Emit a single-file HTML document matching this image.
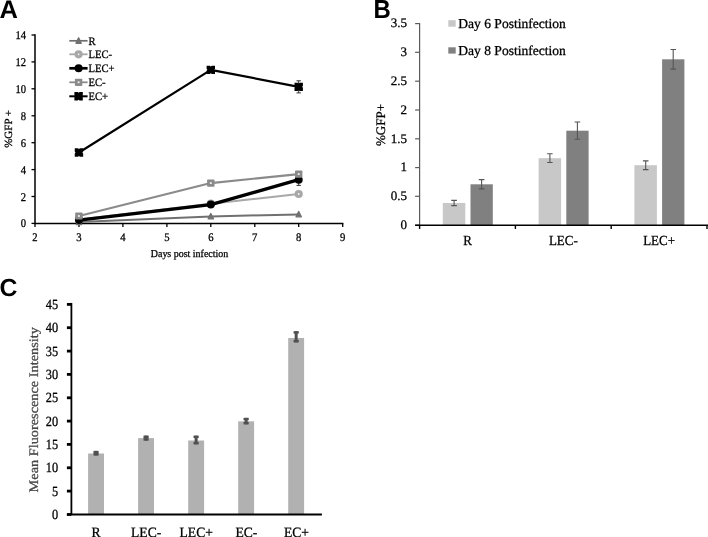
<!DOCTYPE html>
<html><head><meta charset="utf-8"><style>
html,body{margin:0;padding:0;background:#fff;width:708px;height:537px;overflow:hidden;}
svg{display:block;text-rendering:geometricPrecision;filter:blur(0.35px);}
</style></head><body>
<svg width="708" height="537" viewBox="0 0 708 537">
<rect width="708" height="537" fill="#fff"/>
<text transform="translate(-0.60,17.70)" text-anchor="start" font-family='"Liberation Sans", sans-serif' font-size="25.50" fill="#000" font-weight="bold">A</text>
<line x1="35.0" y1="34.3" x2="35.0" y2="223.4" stroke="#000" stroke-width="1.5"/>
<line x1="31.5" y1="223.4" x2="35.0" y2="223.4" stroke="#000" stroke-width="1.3"/>
<text transform="translate(26.10,227.45) scale(0.900,1)" text-anchor="end" font-family='"Liberation Serif", serif' font-size="11.80" fill="#000" stroke="#000" stroke-width="0.28">0</text>
<line x1="31.5" y1="196.5" x2="35.0" y2="196.5" stroke="#000" stroke-width="1.3"/>
<text transform="translate(26.10,200.53) scale(0.900,1)" text-anchor="end" font-family='"Liberation Serif", serif' font-size="11.80" fill="#000" stroke="#000" stroke-width="0.28">2</text>
<line x1="31.5" y1="169.6" x2="35.0" y2="169.6" stroke="#000" stroke-width="1.3"/>
<text transform="translate(26.10,173.61) scale(0.900,1)" text-anchor="end" font-family='"Liberation Serif", serif' font-size="11.80" fill="#000" stroke="#000" stroke-width="0.28">4</text>
<line x1="31.5" y1="142.7" x2="35.0" y2="142.7" stroke="#000" stroke-width="1.3"/>
<text transform="translate(26.10,146.69) scale(0.900,1)" text-anchor="end" font-family='"Liberation Serif", serif' font-size="11.80" fill="#000" stroke="#000" stroke-width="0.28">6</text>
<line x1="31.5" y1="115.8" x2="35.0" y2="115.8" stroke="#000" stroke-width="1.3"/>
<text transform="translate(26.10,119.77) scale(0.900,1)" text-anchor="end" font-family='"Liberation Serif", serif' font-size="11.80" fill="#000" stroke="#000" stroke-width="0.28">8</text>
<line x1="31.5" y1="88.8" x2="35.0" y2="88.8" stroke="#000" stroke-width="1.3"/>
<text transform="translate(26.10,92.85) scale(0.900,1)" text-anchor="end" font-family='"Liberation Serif", serif' font-size="11.80" fill="#000" stroke="#000" stroke-width="0.28">10</text>
<line x1="31.5" y1="61.9" x2="35.0" y2="61.9" stroke="#000" stroke-width="1.3"/>
<text transform="translate(26.10,65.93) scale(0.900,1)" text-anchor="end" font-family='"Liberation Serif", serif' font-size="11.80" fill="#000" stroke="#000" stroke-width="0.28">12</text>
<line x1="31.5" y1="35.0" x2="35.0" y2="35.0" stroke="#000" stroke-width="1.3"/>
<text transform="translate(26.10,39.01) scale(0.900,1)" text-anchor="end" font-family='"Liberation Serif", serif' font-size="11.80" fill="#000" stroke="#000" stroke-width="0.28">14</text>
<line x1="34.3" y1="223.4" x2="343.4" y2="223.4" stroke="#000" stroke-width="1.5"/>
<line x1="35.0" y1="223.4" x2="35.0" y2="226.9" stroke="#000" stroke-width="1.3"/>
<text transform="translate(35.00,241.20) scale(0.920,1)" text-anchor="middle" font-family='"Liberation Serif", serif' font-size="11.60" fill="#000" stroke="#000" stroke-width="0.28">2</text>
<line x1="79.0" y1="223.4" x2="79.0" y2="226.9" stroke="#000" stroke-width="1.3"/>
<text transform="translate(78.95,241.20) scale(0.920,1)" text-anchor="middle" font-family='"Liberation Serif", serif' font-size="11.60" fill="#000" stroke="#000" stroke-width="0.28">3</text>
<line x1="122.9" y1="223.4" x2="122.9" y2="226.9" stroke="#000" stroke-width="1.3"/>
<text transform="translate(122.90,241.20) scale(0.920,1)" text-anchor="middle" font-family='"Liberation Serif", serif' font-size="11.60" fill="#000" stroke="#000" stroke-width="0.28">4</text>
<line x1="166.9" y1="223.4" x2="166.9" y2="226.9" stroke="#000" stroke-width="1.3"/>
<text transform="translate(166.85,241.20) scale(0.920,1)" text-anchor="middle" font-family='"Liberation Serif", serif' font-size="11.60" fill="#000" stroke="#000" stroke-width="0.28">5</text>
<line x1="210.8" y1="223.4" x2="210.8" y2="226.9" stroke="#000" stroke-width="1.3"/>
<text transform="translate(210.80,241.20) scale(0.920,1)" text-anchor="middle" font-family='"Liberation Serif", serif' font-size="11.60" fill="#000" stroke="#000" stroke-width="0.28">6</text>
<line x1="254.8" y1="223.4" x2="254.8" y2="226.9" stroke="#000" stroke-width="1.3"/>
<text transform="translate(254.75,241.20) scale(0.920,1)" text-anchor="middle" font-family='"Liberation Serif", serif' font-size="11.60" fill="#000" stroke="#000" stroke-width="0.28">7</text>
<line x1="298.7" y1="223.4" x2="298.7" y2="226.9" stroke="#000" stroke-width="1.3"/>
<text transform="translate(298.70,241.20) scale(0.920,1)" text-anchor="middle" font-family='"Liberation Serif", serif' font-size="11.60" fill="#000" stroke="#000" stroke-width="0.28">8</text>
<line x1="342.7" y1="223.4" x2="342.7" y2="226.9" stroke="#000" stroke-width="1.3"/>
<text transform="translate(342.65,241.20) scale(0.920,1)" text-anchor="middle" font-family='"Liberation Serif", serif' font-size="11.60" fill="#000" stroke="#000" stroke-width="0.28">9</text>
<text transform="translate(189.50,256.80) scale(0.940,1)" text-anchor="middle" font-family='"Liberation Serif", serif' font-size="10.60" fill="#000" stroke="#000" stroke-width="0.28">Days post infection</text>
<text transform="translate(11.60,128.90) rotate(-90)" text-anchor="middle" font-family='"Liberation Serif", serif' font-size="11.00" fill="#000" stroke="#000" stroke-width="0.28">%GFP +</text>
<path d="M79.0 222.1L210.8 216.5L298.7 214.4" fill="none" stroke="#707070" stroke-width="2.0" stroke-linejoin="round"/>
<path d="M78.95 219.20L81.55 224.50L76.35 224.50Z" fill="#707070" stroke="#707070" stroke-width="1.4" stroke-linejoin="round"/>
<path d="M210.80 213.55L213.40 218.85L208.20 218.85Z" fill="#707070" stroke="#707070" stroke-width="1.4" stroke-linejoin="round"/>
<path d="M298.70 211.53L301.30 216.83L296.10 216.83Z" fill="#707070" stroke="#707070" stroke-width="1.4" stroke-linejoin="round"/>
<path d="M79.0 219.4L210.8 203.7L298.7 194.0" fill="none" stroke="#a8a8a8" stroke-width="2.0" stroke-linejoin="round"/>
<circle cx="79.0" cy="219.4" r="4.1" fill="#a8a8a8"/><circle cx="79.0" cy="219.4" r="0.9" fill="#f4f4f4"/>
<circle cx="210.8" cy="203.7" r="4.1" fill="#a8a8a8"/><circle cx="210.8" cy="203.7" r="0.9" fill="#f4f4f4"/>
<circle cx="298.7" cy="194.0" r="4.1" fill="#a8a8a8"/><circle cx="298.7" cy="194.0" r="0.9" fill="#f4f4f4"/>
<path d="M79.0 220.1L210.8 204.6L298.7 179.7" fill="none" stroke="#000000" stroke-width="3.4" stroke-linejoin="round"/>
<path d="M298.7 174.1V185.4M296.5 174.1H300.9M296.5 185.4H300.9" stroke="#333" stroke-width="1"/>
<circle cx="79.0" cy="220.1" r="4.0" fill="#000000"/>
<circle cx="210.8" cy="204.6" r="4.0" fill="#000000"/>
<circle cx="298.7" cy="179.7" r="4.0" fill="#000000"/>
<path d="M79.0 216.0L210.8 183.1L298.7 174.1" fill="none" stroke="#8a8a8a" stroke-width="2.1" stroke-linejoin="round"/>
<rect x="75.2" y="212.4" width="7.4" height="7.2" rx="0.8" fill="#8a8a8a"/><rect x="78.0" y="215.1" width="1.8" height="1.8" fill="#f4f4f4"/>
<rect x="207.1" y="179.5" width="7.4" height="7.2" rx="0.8" fill="#8a8a8a"/><rect x="209.9" y="182.2" width="1.8" height="1.8" fill="#f4f4f4"/>
<rect x="295.0" y="170.5" width="7.4" height="7.2" rx="0.8" fill="#8a8a8a"/><rect x="297.8" y="173.2" width="1.8" height="1.8" fill="#f4f4f4"/>
<path d="M79.0 152.5L210.8 69.9L298.7 86.8" fill="none" stroke="#000000" stroke-width="2.2" stroke-linejoin="round"/>
<path d="M298.7 80.8V92.9M296.5 80.8H300.9M296.5 92.9H300.9" stroke="#333" stroke-width="1"/>
<path d="M74.75 148.32L77.95 148.32L78.95 149.07L79.95 148.32L83.15 148.32L83.15 151.52L82.40 152.52L83.15 153.52L83.15 156.72L79.95 156.72L78.95 155.97L77.95 156.72L74.75 156.72L74.75 153.52L75.50 152.52L74.75 151.52Z" fill="#000000"/>
<path d="M206.60 65.67L209.80 65.67L210.80 66.42L211.80 65.67L215.00 65.67L215.00 68.87L214.25 69.87L215.00 70.87L215.00 74.07L211.80 74.07L210.80 73.32L209.80 74.07L206.60 74.07L206.60 70.87L207.35 69.87L206.60 68.87Z" fill="#000000"/>
<path d="M294.50 82.63L297.70 82.63L298.70 83.38L299.70 82.63L302.90 82.63L302.90 85.83L302.15 86.83L302.90 87.83L302.90 91.03L299.70 91.03L298.70 90.28L297.70 91.03L294.50 91.03L294.50 87.83L295.25 86.83L294.50 85.83Z" fill="#000000"/>
<line x1="69.3" y1="40.8" x2="87.6" y2="40.8" stroke="#707070" stroke-width="1.7"/>
<path d="M78.60 37.90L81.20 43.20L76.00 43.20Z" fill="#707070" stroke="#707070" stroke-width="1.4" stroke-linejoin="round"/>
<text transform="translate(88.50,44.60) scale(0.940,1)" text-anchor="start" font-family='"Liberation Serif", serif' font-size="11.30" fill="#000" stroke="#000" stroke-width="0.28">R</text>
<line x1="69.3" y1="54.3" x2="87.6" y2="54.3" stroke="#a8a8a8" stroke-width="1.8"/>
<circle cx="78.6" cy="54.3" r="4.1" fill="#a8a8a8"/><circle cx="78.6" cy="54.3" r="0.9" fill="#f4f4f4"/>
<text transform="translate(88.50,58.10) scale(0.940,1)" text-anchor="start" font-family='"Liberation Serif", serif' font-size="11.30" fill="#000" stroke="#000" stroke-width="0.28">LEC-</text>
<line x1="69.3" y1="68.3" x2="87.6" y2="68.3" stroke="#000000" stroke-width="2.7"/>
<circle cx="78.6" cy="68.3" r="4.0" fill="#000000"/>
<text transform="translate(88.50,72.10) scale(0.940,1)" text-anchor="start" font-family='"Liberation Serif", serif' font-size="11.30" fill="#000" stroke="#000" stroke-width="0.28">LEC+</text>
<line x1="69.3" y1="82.3" x2="87.6" y2="82.3" stroke="#8a8a8a" stroke-width="1.8"/>
<rect x="74.9" y="78.7" width="7.4" height="7.2" rx="0.8" fill="#8a8a8a"/><rect x="77.7" y="81.4" width="1.8" height="1.8" fill="#f4f4f4"/>
<text transform="translate(88.50,86.10) scale(0.940,1)" text-anchor="start" font-family='"Liberation Serif", serif' font-size="11.30" fill="#000" stroke="#000" stroke-width="0.28">EC-</text>
<line x1="69.3" y1="96.3" x2="87.6" y2="96.3" stroke="#000000" stroke-width="2.0"/>
<path d="M74.40 92.10L77.60 92.10L78.60 92.85L79.60 92.10L82.80 92.10L82.80 95.30L82.05 96.30L82.80 97.30L82.80 100.50L79.60 100.50L78.60 99.75L77.60 100.50L74.40 100.50L74.40 97.30L75.15 96.30L74.40 95.30Z" fill="#000000"/>
<text transform="translate(88.50,100.10) scale(0.940,1)" text-anchor="start" font-family='"Liberation Serif", serif' font-size="11.30" fill="#000" stroke="#000" stroke-width="0.28">EC+</text>
<text transform="translate(373.50,17.50) scale(0.920,1)" text-anchor="start" font-family='"Liberation Sans", sans-serif' font-size="26.00" fill="#000" font-weight="bold">B</text>
<line x1="419.6" y1="23.0" x2="419.6" y2="225.2" stroke="#5a5a5a" stroke-width="1.2"/>
<line x1="415.1" y1="225.2" x2="419.6" y2="225.2" stroke="#5a5a5a" stroke-width="1.2"/>
<text transform="translate(407.00,229.05)" text-anchor="end" font-family='"Liberation Serif", serif' font-size="13.00" fill="#000" stroke="#000" stroke-width="0.28">0</text>
<line x1="415.1" y1="196.3" x2="419.6" y2="196.3" stroke="#5a5a5a" stroke-width="1.2"/>
<text transform="translate(407.00,200.25)" text-anchor="end" font-family='"Liberation Serif", serif' font-size="13.00" fill="#000" stroke="#000" stroke-width="0.28">0.5</text>
<line x1="415.1" y1="167.6" x2="419.6" y2="167.6" stroke="#5a5a5a" stroke-width="1.2"/>
<text transform="translate(407.00,171.45)" text-anchor="end" font-family='"Liberation Serif", serif' font-size="13.00" fill="#000" stroke="#000" stroke-width="0.28">1</text>
<line x1="415.1" y1="138.8" x2="419.6" y2="138.8" stroke="#5a5a5a" stroke-width="1.2"/>
<text transform="translate(407.00,142.65)" text-anchor="end" font-family='"Liberation Serif", serif' font-size="13.00" fill="#000" stroke="#000" stroke-width="0.28">1.5</text>
<line x1="415.1" y1="110.0" x2="419.6" y2="110.0" stroke="#5a5a5a" stroke-width="1.2"/>
<text transform="translate(407.00,113.85)" text-anchor="end" font-family='"Liberation Serif", serif' font-size="13.00" fill="#000" stroke="#000" stroke-width="0.28">2</text>
<line x1="415.1" y1="81.2" x2="419.6" y2="81.2" stroke="#5a5a5a" stroke-width="1.2"/>
<text transform="translate(407.00,85.05)" text-anchor="end" font-family='"Liberation Serif", serif' font-size="13.00" fill="#000" stroke="#000" stroke-width="0.28">2.5</text>
<line x1="415.1" y1="52.3" x2="419.6" y2="52.3" stroke="#5a5a5a" stroke-width="1.2"/>
<text transform="translate(407.00,56.25)" text-anchor="end" font-family='"Liberation Serif", serif' font-size="13.00" fill="#000" stroke="#000" stroke-width="0.28">3</text>
<line x1="415.1" y1="23.6" x2="419.6" y2="23.6" stroke="#5a5a5a" stroke-width="1.2"/>
<text transform="translate(407.00,27.45)" text-anchor="end" font-family='"Liberation Serif", serif' font-size="13.00" fill="#000" stroke="#000" stroke-width="0.28">3.5</text>
<text transform="translate(384.60,125.00) rotate(-90)" text-anchor="middle" font-family='"Liberation Serif", serif' font-size="13.00" fill="#000" stroke="#000" stroke-width="0.28">%GFP+</text>
<rect x="442.8" y="203.0" width="22.5" height="22.2" fill="#c8c8c8"/>
<path d="M454.1 200.4V205.6M451.2 200.4H456.9M451.2 205.6H456.9" stroke="#555" stroke-width="1.1"/>
<rect x="470.5" y="184.3" width="22.3" height="40.9" fill="#808080"/>
<path d="M481.6 179.6V188.9M478.8 179.6H484.4M478.8 188.9H484.4" stroke="#555" stroke-width="1.1"/>
<text transform="translate(467.50,245.40) scale(0.940,1)" text-anchor="middle" font-family='"Liberation Serif", serif' font-size="13.80" fill="#000" stroke="#000" stroke-width="0.28">R</text>
<rect x="538.6" y="158.2" width="22.5" height="67.0" fill="#c8c8c8"/>
<path d="M549.9 153.8V162.5M547.1 153.8H552.6M547.1 162.5H552.6" stroke="#555" stroke-width="1.1"/>
<rect x="566.3" y="130.7" width="22.3" height="94.5" fill="#808080"/>
<path d="M577.4 122.0V139.3M574.6 122.0H580.2M574.6 139.3H580.2" stroke="#555" stroke-width="1.1"/>
<text transform="translate(563.30,245.40) scale(0.940,1)" text-anchor="middle" font-family='"Liberation Serif", serif' font-size="13.80" fill="#000" stroke="#000" stroke-width="0.28">LEC-</text>
<rect x="634.4" y="165.2" width="22.5" height="59.9" fill="#c8c8c8"/>
<path d="M645.7 160.9V169.6M642.9 160.9H648.5M642.9 169.6H648.5" stroke="#555" stroke-width="1.1"/>
<rect x="662.1" y="59.3" width="22.3" height="165.9" fill="#808080"/>
<path d="M673.2 49.5V69.1M670.5 49.5H676.0M670.5 69.1H676.0" stroke="#555" stroke-width="1.1"/>
<text transform="translate(659.10,245.40) scale(0.940,1)" text-anchor="middle" font-family='"Liberation Serif", serif' font-size="13.80" fill="#000" stroke="#000" stroke-width="0.28">LEC+</text>
<line x1="415.1" y1="225.15" x2="708.0" y2="225.15" stroke="#000" stroke-width="1.5"/>
<line x1="419.6" y1="225.15" x2="419.6" y2="228.95" stroke="#000" stroke-width="1.4"/>
<line x1="515.4" y1="225.15" x2="515.4" y2="228.95" stroke="#000" stroke-width="1.4"/>
<line x1="611.2" y1="225.15" x2="611.2" y2="228.95" stroke="#000" stroke-width="1.4"/>
<line x1="707.0" y1="225.15" x2="707.0" y2="228.95" stroke="#000" stroke-width="1.4"/>
<rect x="448.3" y="20.2" width="7.4" height="6.5" fill="#c8c8c8"/>
<text transform="translate(458.30,27.70) scale(0.995,1)" text-anchor="start" font-family='"Liberation Serif", serif' font-size="13.60" fill="#000" stroke="#000" stroke-width="0.28">Day 6 Postinfection</text>
<rect x="448.3" y="47.3" width="7.4" height="6.3" fill="#808080"/>
<text transform="translate(458.30,54.70) scale(0.995,1)" text-anchor="start" font-family='"Liberation Serif", serif' font-size="13.60" fill="#000" stroke="#000" stroke-width="0.28">Day 8 Postinfection</text>
<text transform="translate(-0.40,296.30)" text-anchor="start" font-family='"Liberation Sans", sans-serif' font-size="24.80" fill="#000" font-weight="bold">C</text>
<line x1="71.4" y1="302.9" x2="71.4" y2="514.5" stroke="#000" stroke-width="1.8"/>
<line x1="66.9" y1="514.5" x2="71.4" y2="514.5" stroke="#000" stroke-width="2.8"/>
<text transform="translate(58.10,519.10) scale(0.880,1)" text-anchor="end" font-family='"Liberation Serif", serif' font-size="14.00" fill="#000" stroke="#000" stroke-width="0.28">0</text>
<line x1="66.9" y1="491.1" x2="71.4" y2="491.1" stroke="#000" stroke-width="2.8"/>
<text transform="translate(58.10,495.75) scale(0.880,1)" text-anchor="end" font-family='"Liberation Serif", serif' font-size="14.00" fill="#000" stroke="#000" stroke-width="0.28">5</text>
<line x1="66.9" y1="467.8" x2="71.4" y2="467.8" stroke="#000" stroke-width="2.8"/>
<text transform="translate(58.10,472.40) scale(0.880,1)" text-anchor="end" font-family='"Liberation Serif", serif' font-size="14.00" fill="#000" stroke="#000" stroke-width="0.28">10</text>
<line x1="66.9" y1="444.4" x2="71.4" y2="444.4" stroke="#000" stroke-width="2.8"/>
<text transform="translate(58.10,449.05) scale(0.880,1)" text-anchor="end" font-family='"Liberation Serif", serif' font-size="14.00" fill="#000" stroke="#000" stroke-width="0.28">15</text>
<line x1="66.9" y1="421.1" x2="71.4" y2="421.1" stroke="#000" stroke-width="2.8"/>
<text transform="translate(58.10,425.70) scale(0.880,1)" text-anchor="end" font-family='"Liberation Serif", serif' font-size="14.00" fill="#000" stroke="#000" stroke-width="0.28">20</text>
<line x1="66.9" y1="397.8" x2="71.4" y2="397.8" stroke="#000" stroke-width="2.8"/>
<text transform="translate(58.10,402.35) scale(0.880,1)" text-anchor="end" font-family='"Liberation Serif", serif' font-size="14.00" fill="#000" stroke="#000" stroke-width="0.28">25</text>
<line x1="66.9" y1="374.4" x2="71.4" y2="374.4" stroke="#000" stroke-width="2.8"/>
<text transform="translate(58.10,379.00) scale(0.880,1)" text-anchor="end" font-family='"Liberation Serif", serif' font-size="14.00" fill="#000" stroke="#000" stroke-width="0.28">30</text>
<line x1="66.9" y1="351.1" x2="71.4" y2="351.1" stroke="#000" stroke-width="2.8"/>
<text transform="translate(58.10,355.65) scale(0.880,1)" text-anchor="end" font-family='"Liberation Serif", serif' font-size="14.00" fill="#000" stroke="#000" stroke-width="0.28">35</text>
<line x1="66.9" y1="327.7" x2="71.4" y2="327.7" stroke="#000" stroke-width="2.8"/>
<text transform="translate(58.10,332.30) scale(0.880,1)" text-anchor="end" font-family='"Liberation Serif", serif' font-size="14.00" fill="#000" stroke="#000" stroke-width="0.28">40</text>
<line x1="66.9" y1="304.4" x2="71.4" y2="304.4" stroke="#000" stroke-width="2.8"/>
<text transform="translate(58.10,308.95) scale(0.880,1)" text-anchor="end" font-family='"Liberation Serif", serif' font-size="14.00" fill="#000" stroke="#000" stroke-width="0.28">45</text>
<text transform="translate(38.30,409.80) rotate(-90) scale(1.100,1)" text-anchor="middle" font-family='"Liberation Serif", serif' font-size="13.00" fill="#474747" stroke="#474747" stroke-width="0.28">Mean Fluorescence Intensity</text>
<rect x="88.1" y="453.5" width="15.9" height="61.0" fill="#b1b1b1"/>
<rect x="93.45" y="450.90" width="5.2" height="2.4" fill="#505050"/>
<rect x="93.45" y="453.10" width="5.2" height="2.4" fill="#505050"/>
<rect x="94.55" y="450.90" width="3" height="4.60" fill="#505050"/>
<text transform="translate(96.05,536.90) scale(0.960,1)" text-anchor="middle" font-family='"Liberation Serif", serif' font-size="14.20" fill="#000" stroke="#000" stroke-width="0.28">R</text>
<rect x="138.1" y="438.1" width="15.9" height="76.4" fill="#b1b1b1"/>
<rect x="143.48" y="435.60" width="5.2" height="2.4" fill="#505050"/>
<rect x="143.48" y="438.20" width="5.2" height="2.4" fill="#505050"/>
<rect x="144.58" y="435.60" width="3" height="5.00" fill="#505050"/>
<text transform="translate(146.15,536.90) scale(0.960,1)" text-anchor="middle" font-family='"Liberation Serif", serif' font-size="14.20" fill="#000" stroke="#000" stroke-width="0.28">LEC-</text>
<rect x="188.2" y="440.5" width="15.9" height="74.0" fill="#b1b1b1"/>
<rect x="193.51" y="435.65" width="5.2" height="2.4" fill="#505050"/>
<rect x="193.51" y="441.95" width="5.2" height="2.4" fill="#505050"/>
<rect x="194.61" y="435.65" width="3" height="8.70" fill="#505050"/>
<text transform="translate(196.25,536.90) scale(0.960,1)" text-anchor="middle" font-family='"Liberation Serif", serif' font-size="14.20" fill="#000" stroke="#000" stroke-width="0.28">LEC+</text>
<rect x="238.2" y="421.3" width="15.9" height="93.2" fill="#b1b1b1"/>
<rect x="243.54" y="417.85" width="5.2" height="2.4" fill="#505050"/>
<rect x="243.54" y="421.95" width="5.2" height="2.4" fill="#505050"/>
<rect x="244.64" y="417.85" width="3" height="6.50" fill="#505050"/>
<text transform="translate(246.35,536.90) scale(0.960,1)" text-anchor="middle" font-family='"Liberation Serif", serif' font-size="14.20" fill="#000" stroke="#000" stroke-width="0.28">EC-</text>
<rect x="288.2" y="338.0" width="15.9" height="176.5" fill="#b1b1b1"/>
<rect x="293.57" y="331.20" width="5.2" height="2.4" fill="#505050"/>
<rect x="293.57" y="340.00" width="5.2" height="2.4" fill="#505050"/>
<rect x="294.67" y="331.20" width="3" height="11.20" fill="#505050"/>
<text transform="translate(296.45,536.90) scale(0.960,1)" text-anchor="middle" font-family='"Liberation Serif", serif' font-size="14.20" fill="#000" stroke="#000" stroke-width="0.28">EC+</text>
<line x1="66.9" y1="514.5" x2="321.9" y2="514.5" stroke="#000" stroke-width="2"/>
</svg>
</body></html>
